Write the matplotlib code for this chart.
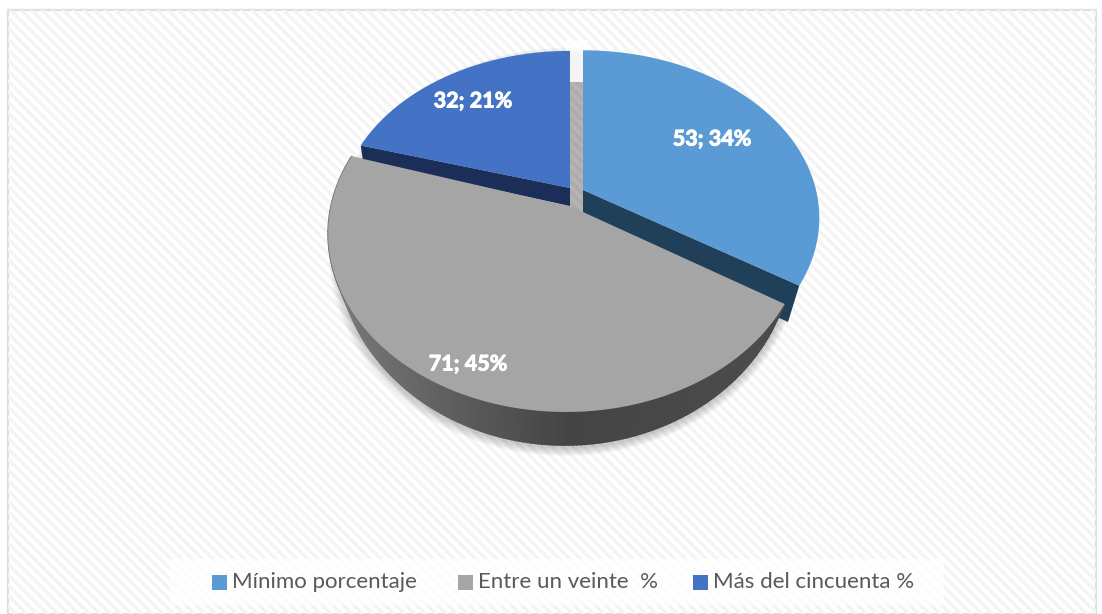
import numpy as np
import matplotlib
matplotlib.use("Agg")
import matplotlib.pyplot as plt
import matplotlib.patheffects as pe
from matplotlib.patches import Polygon, Rectangle
from matplotlib.collections import LineCollection

categories = ["Mínimo porcentaje", "Entre un veinte  %", "Más del cincuenta %"]
values = [53, 71, 32]
percents = [34, 45, 21]
colors = ["#5B9BD5", "#A5A5A5", "#4472C4"]
side_colors = ["#203F58", "#555555", "#1A2E57"]

plt.rcParams['font.family'] = ['Lato', 'DejaVu Sans']
fig = plt.figure(figsize=(11.02, 6.14), dpi=100)
ax = fig.add_axes([0, 0, 1, 1])
ax.set_xlim(0, 1102)
ax.set_ylim(614, 0)
ax.axis('off')

# background
frame = Rectangle((7.5, 9.5), 1088, 604, fc='white', ec='#DEDEDE', lw=1.6, zorder=1)
ax.add_patch(frame)
hatch = [[(c, 0), (c + 640, 640)] for c in np.arange(-640, 1102, 10.5)]
lc = LineCollection(hatch, colors='#F4F4F4', linewidths=2.4, zorder=1.1)
ax.add_collection(lc)
lc.set_clip_path(frame)

# perspective rims: cx, y0, B, A, k, per slice
rim = [(583, 190, 233, 163, 0.167), (566, 202, 234, 172.6, 0.178), (570, 188, 228, 160, 0.167)]
apex = [(583, 190), (572, 207), (570, 188)]
fr = np.cumsum([0] + values) / sum(values)
ts = [np.linspace(2 * np.pi * fr[i], 2 * np.pi * fr[i + 1], 200) for i in range(3)]


def rim_pts(t, p):
    cx, y0, B, A, k = p
    X, Y = np.sin(t), np.cos(t)
    d = 1 + k * Y
    return np.c_[cx + B * X / d, y0 - A * Y / d]


def low_pts(t, grow=0.0, dx=0.0, dy=0.0):
    base = rim_pts(t, rim[1])
    # bottom outline: a smaller ellipse lower down, same angular order
    a = np.arctan2((base[:, 0] - 566) / 238, (base[:, 1] - 231) / 181)
    return np.c_[565 + dx + (227 + grow) * np.sin(a), 250 + dy + (195 + grow) * np.cos(a)]


# soft shadow under the pie
for g in np.arange(9, 0, -1.5):
    tt = np.linspace(0, 2 * np.pi, 300)
    lo = low_pts(tt, grow=g, dy=2)
    ax.add_patch(Polygon(lo, fc='black', ec='none', alpha=0.035, zorder=2))
# gap: white sliver on top, then shaded area
ax.add_patch(Rectangle((566, 40), 22, 42, fc='white', ec='none', alpha=0.8, zorder=2.5))
ax.add_patch(Rectangle((566, 82), 22, 130, fc='black', ec='none', alpha=0.11, zorder=2.5))

# side faces
ax.add_patch(Polygon([apex[0], rim_pts(ts[0][-1:], rim[0])[0], (788, 322), (583, 226)],
                     fc=side_colors[0], ec='none', zorder=3))
ax.add_patch(Polygon([apex[2], rim_pts(ts[2][:1], rim[2])[0], (363, 161), (570, 206)],
                     fc=side_colors[2], ec='none', zorder=3))
t1 = ts[1]
top = rim_pts(t1, rim[1])
low = low_pts(t1)
for i in range(len(t1) - 1):
    mx = top[i, 0]
    if mx < 570:
        v = 0x44 + (0x76 - 0x44) * np.clip((570 - mx) / 225, 0, 1)
    else:
        v = 0x44 + (0x4C - 0x44) * np.clip((mx - 570) / 215, 0, 1)
    col = (v / 255,) * 3
    ax.add_patch(Polygon([top[i], top[i + 1], low[i + 1], low[i]], fc=col, ec=col, lw=1.2, zorder=3.2))

# top faces
for i in range(3):
    ax.add_patch(Polygon(np.vstack([apex[i], rim_pts(ts[i], rim[i])]), fc=colors[i], ec='none',
                         zorder=4 if i == 1 else 4.2))

# data labels
label_xy = [(712, 139), (468, 364), (473, 101)]
for (x, y), v, p in zip(label_xy, values, percents):
    ax.text(x, y, f"{v}; {p}%", color='white', fontsize=15.5, fontweight='bold',
            ha='center', va='center', zorder=6,
            path_effects=[pe.withStroke(linewidth=0.7, foreground='white')])

# legend
ax.add_patch(Rectangle((170, 559), 774, 46, fc='white', ec='none', alpha=0.75, zorder=5))
leg_x = [212, 458, 693]
for x, c, name in zip(leg_x, colors, categories):
    ax.add_patch(Rectangle((x, 575), 15, 15, fc=c, ec='none', zorder=6))
    ax.text(x + 20, 582, name, color='#595959', fontsize=16, ha='left', va='center', zorder=6)

fig.savefig("out.png", dpi=100)
